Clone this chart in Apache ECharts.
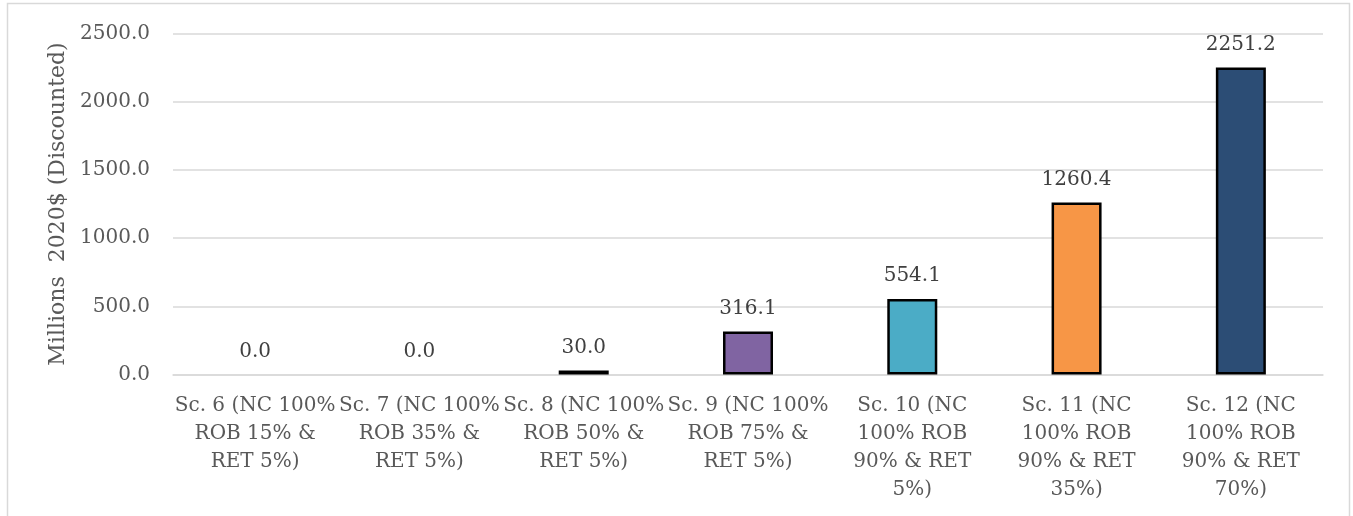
<!DOCTYPE html>
<html>
<head>
<meta charset="utf-8">
<script src="https://cdn.jsdelivr.net/npm/echarts@6/dist/echarts.min.js"></script>
<style>
html,body{margin:0;padding:0;background:#fff;}
#chart{width:1353px;height:516px;}
</style>
</head>
<body>
<div id="chart"></div>
<script>
var categories = [
  "Sc. 6 (NC 100%\nROB 15% &\nRET 5%)",
  "Sc. 7 (NC 100%\nROB 35% &\nRET 5%)",
  "Sc. 8 (NC 100%\nROB 50% &\nRET 5%)",
  "Sc. 9 (NC 100%\nROB 75% &\nRET 5%)",
  "Sc. 10 (NC\n100% ROB\n90% & RET\n5%)",
  "Sc. 11 (NC\n100% ROB\n90% & RET\n35%)",
  "Sc. 12 (NC\n100% ROB\n90% & RET\n70%)"
];
var values = [0.0, 0.0, 30.0, 316.1, 554.1, 1260.4, 2251.2];
var barColors = ["#4f81bd", "#c0504d", "#77933c", "#8064a2", "#4bacc6", "#f79646", "#2c4d75"];
var yTicks = { min: 0, max: 2500, interval: 500 };
var yAxisTitle = "Millions  2020$ (Discounted)";

var FONT = "DejaVu Serif";
var chart = echarts.init(document.getElementById('chart'));
chart.setOption({
  backgroundColor: '#ffffff',
  animation: false,
  graphic: [{
    type: 'rect',
    shape: { x: 7.5, y: 3.5, width: 1342, height: 600 },
    style: { fill: 'none', stroke: '#d9d9d9', lineWidth: 1.5 },
    silent: true
  }],
  grid: { left: 173, right: 30, top: 33.5, bottom: 141.5 },
  xAxis: {
    type: 'category',
    data: categories,
    axisLine: { show: true, lineStyle: { color: '#d9d9d9', width: 1.5 } },
    axisTick: { show: false },
    axisLabel: {
      interval: 0,
      margin: 17,
      color: '#595959',
      fontFamily: FONT,
      fontSize: 20,
      lineHeight: 28,
      align: 'center'
    }
  },
  yAxis: {
    type: 'value',
    min: yTicks.min,
    max: yTicks.max,
    interval: yTicks.interval,
    name: yAxisTitle,
    nameLocation: 'middle',
    nameGap: 103,
    nameTextStyle: { color: '#595959', fontFamily: FONT, fontSize: 22 },
    axisLine: { show: false },
    axisTick: { show: false },
    splitLine: { lineStyle: { color: '#d9d9d9', width: 1.5 } },
    axisLabel: {
      margin: 23,
      color: '#595959',
      fontFamily: FONT,
      fontSize: 20,
      formatter: function (v) { return v.toFixed(1); }
    }
  },
  series: [{
    type: 'bar',
    barWidth: 50,
    data: values.map(function (v, i) {
      return {
        value: v,
        itemStyle: {
          color: barColors[i],
          borderColor: '#000000',
          borderWidth: v === 0 ? 0 : 2.5
        }
      };
    }),
    label: {
      show: true,
      position: 'top',
      distance: 13,
      color: '#404040',
      fontFamily: FONT,
      fontSize: 20,
      formatter: function (p) { return p.value.toFixed(1); }
    }
  }]
});
</script>
</body>
</html>
